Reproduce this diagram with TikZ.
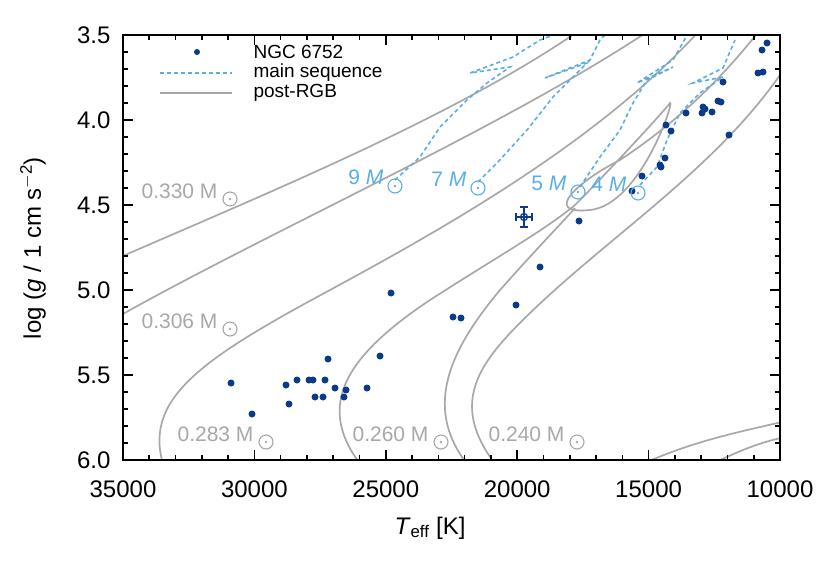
\documentclass[tikz,border=0pt]{standalone}
\usepackage{fontspec}
\setmainfont{Liberation Sans}
\begin{document}
\begin{tikzpicture}[x=1pt,y=-1pt,
  iso/.style={draw=isog,line width=1.7pt},
  ms/.style={draw=msb,line width=1.6pt,dash pattern=on 4pt off 3pt},
  dot/.style={circle,fill=ptb,inner sep=0pt,minimum size=7pt},
  glab/.style={text=isog,font=\fontsize{21}{21}\selectfont},
  blab/.style={text=msb,font=\fontsize{21}{21}\selectfont},
  tl/.style={font=\fontsize{24}{24}\selectfont}]
\definecolor{isog}{HTML}{A8A8A8}
\definecolor{msb}{HTML}{5AAEE8}
\definecolor{ptb}{HTML}{0B3A8A}
\useasboundingbox (0,0) rectangle (830,581);
\begin{scope}
\clip (123,35) rectangle (780,460);
% post-RGB tracks
\draw[iso] (100,266) .. controls (250,200) and (450,120) .. (580,30);
\draw[iso] (100,327) .. controls (250,240) and (500,130) .. (650,30);
\draw[iso] (165,470) .. controls (140,400) and (200,360) .. (330,290) .. controls (450,225) and (600,140) .. (700,30);
\draw[iso] (365,470) .. controls (315,410) and (340,360) .. (430,300) .. controls (500,255) and (545,230) .. (575,205) .. controls (610,170) and (665,110) .. (670,103) .. controls (675,100) and (640,205) .. (590,210) .. controls (540,215) and (580,180) .. (620,160) .. controls (680,120) and (720,80) .. (760,30);
\draw[iso] (472,470) .. controls (420,410) and (450,350) .. (500,290) .. controls (540,245) and (560,225) .. (575,208);
\draw[iso] (500,470) .. controls (450,410) and (475,370) .. (513,330) .. controls (600,240) and (720,170) .. (790,60);
\draw[iso] (630,470) .. controls (690,440) and (750,430) .. (790,420);
\draw[iso] (700,470) .. controls (740,450) and (760,442) .. (790,436);
% main sequence tracks
\draw[ms] (395,180) -- (420,157) -- (440,127) -- (467,100) -- (487,83) -- (510,67) -- (470,73) -- (513,57) -- (540,40) -- (567,30);
\draw[ms] (478,182) -- (497,163) -- (527,130) -- (553,97) -- (573,77) -- (587,63) -- (545,78) -- (590,60) -- (600,40) -- (610,30);
\draw[ms] (580,187) -- (600,157) -- (620,130) -- (633,103) -- (647,80) -- (673,67) -- (637,83) -- (673,60) -- (690,30);
\draw[ms] (640,185) -- (657,167) -- (667,140) -- (680,113) -- (700,93) -- (723,77) -- (693,83) -- (723,68) -- (735,40);
% data
\foreach \p in {(767,43),(762,50),(758,73),(763,72),(723,82),(718,101),(721,102),(686,113),(703,107),(705,109),(702,113),(712,112),(666,125),(671,131),(729,135),(665,158),(660,165),(661,167),(642,176),(632,191),(579,221),(540,267),(516,305),(453,317),(461,318),(391,293),(328,359),(380,356),(231,383),(286,385),(297,380),(309,380),(313,380),(325,380),(335,388),(346,390),(367,388),(289,404),(315,397),(323,397),(344,397),(252,414)}
  \node[dot] at \p {};
\end{scope}
% error point
\node[circle,draw=ptb,line width=1.3pt,inner sep=0pt,minimum size=7pt] (ep) at (524,217) {};
\draw[ptb,line width=1.3pt] (516,217) -- (532,217) (516,213)--(516,221) (532,213)--(532,221)
  (524,207)--(524,227) (520,207)--(528,207) (520,227)--(528,227);
% isochrone labels
\foreach \tx/\x/\y in {0.330/183/190,0.306/183/320,0.283/219/433,0.260/394/433,0.240/530/433}{
  \node[glab,anchor=base east] at (\x+38,\y+8) {\tx{} M};
  \node[circle,draw=isog,line width=1.1pt,inner sep=0pt,minimum size=14pt] at (\x+47,\y+9) {};
  \fill[isog] (\x+47,\y+9) circle (1.3pt);
}
\foreach \tx/\x/\y in {9/395/186,7/478/188,5/578/192,4/638/193}{
  \node[blab,anchor=base east] at (\x-8,\y-2) {\tx{} \textit{M}};
  \node[circle,draw=msb,line width=1.1pt,inner sep=0pt,minimum size=14pt] at (\x,\y) {};
  \fill[msb] (\x,\y) circle (1.3pt);
}
% legend
\node[dot,minimum size=6pt] (ld) at (197,52) {};
\node[anchor=west,font=\fontsize{19}{19}\selectfont] (l1) at (250,52) {NGC 6752};
\draw[ms] (160,73) -- (232,73);
\node[anchor=west,font=\fontsize{19}{19}\selectfont] (l2) at (250,73) {main sequence};
\draw[iso] (160,93) -- (232,93);
\node[anchor=west,font=\fontsize{19}{19}\selectfont] (l3) at (250,93) {post-RGB};
% frame and ticks
\draw[line width=2.4pt] (123,35) rectangle (780,460);
\foreach \i in {0,...,25}{
  \pgfmathsetmacro\xx{123+\i*26.28}
  \draw[line width=1.6pt] (\xx,460) -- (\xx,455) (\xx,35) -- (\xx,40);}
\foreach \i in {0,...,5}{
  \pgfmathsetmacro\xx{123+\i*131.4}
  \draw[line width=1.6pt] (\xx,460) -- (\xx,450) (\xx,35) -- (\xx,45);}
\foreach \v/\i in {35000/0,30000/1,25000/2,20000/3,15000/4,10000/5}{
  \node[tl] at (123+\i*131.4,489) {\v};}
\foreach \i in {0,...,25}{
  \pgfmathsetmacro\yy{35+\i*17}
  \draw[line width=1.6pt] (123,\yy) -- (128,\yy) (780,\yy) -- (775,\yy);}
\foreach \i in {0,...,5}{
  \pgfmathsetmacro\yy{35+\i*85}
  \draw[line width=1.6pt] (123,\yy) -- (133,\yy) (780,\yy) -- (770,\yy);}
\foreach \v/\i in {3.5/0,4.0/1,4.5/2,5.0/3,5.5/4,6.0/5}{
  \node[tl,anchor=east] at (114,35+\i*85) {\v};}
\node[tl,rotate=90] (yl) at (33,248) {log (\textit{g} / 1 cm s\textsuperscript{$-$2})};
\node[tl] (xl) at (430,528) {\textit{T}\textsubscript{eff} [K]};
\end{tikzpicture}
\end{document}
